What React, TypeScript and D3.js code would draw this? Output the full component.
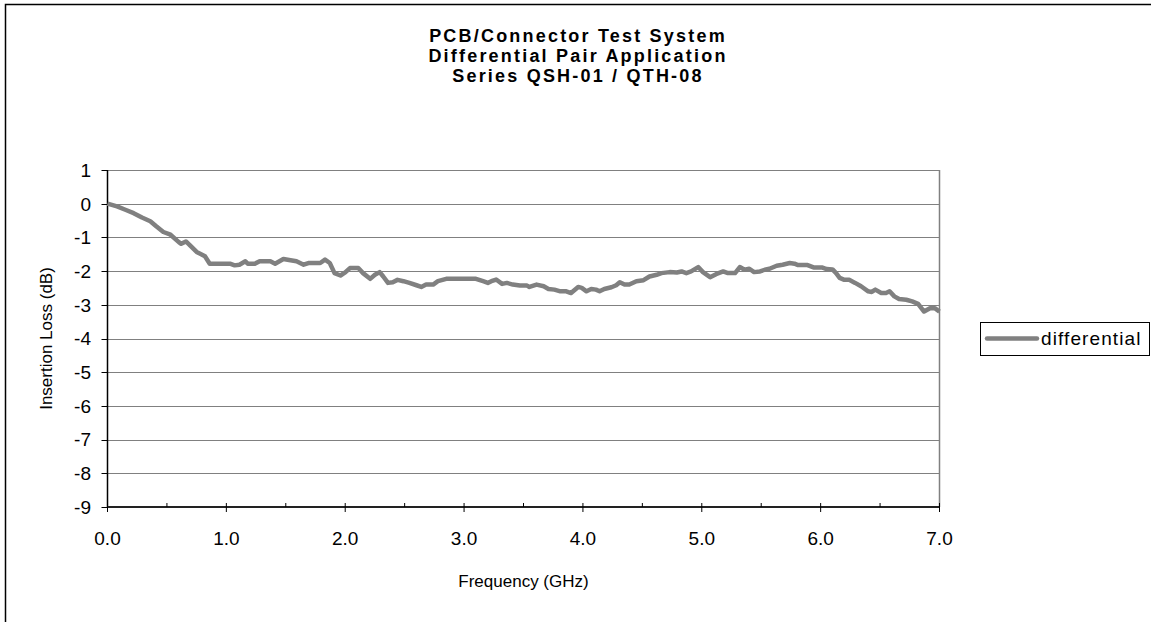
import React from 'react';
import * as d3 from 'd3';

// Frequency (GHz) and insertion loss (dB)
const freq = [
  0.0, 0.08, 0.15, 0.22, 0.29, 0.36, 0.41, 0.47, 0.53, 0.6, 0.62, 0.66, 0.69, 0.75, 0.82, 0.86,
  1.03, 1.07, 1.11, 1.16, 1.18, 1.24, 1.28, 1.37, 1.41, 1.48, 1.54, 1.59, 1.65, 1.69, 1.79, 1.83,
  1.87, 1.91, 1.96, 2.0, 2.04, 2.11, 2.15, 2.21, 2.25, 2.29, 2.32, 2.36, 2.4, 2.44, 2.49, 2.54,
  2.6, 2.64, 2.68, 2.74, 2.78, 2.85, 3.1, 3.16, 3.2, 3.23, 3.27, 3.32, 3.36, 3.41, 3.47, 3.53,
  3.55, 3.61, 3.67, 3.71, 3.76, 3.81, 3.86, 3.9, 3.96, 3.99, 4.03, 4.07, 4.11, 4.14, 4.18, 4.24,
  4.28, 4.31, 4.35, 4.39, 4.45, 4.51, 4.56, 4.62, 4.66, 4.73, 4.79, 4.83, 4.87, 4.91, 4.97, 5.01,
  5.07, 5.12, 5.18, 5.22, 5.28, 5.32, 5.36, 5.4, 5.44, 5.49, 5.53, 5.57, 5.63, 5.68, 5.74, 5.78,
  5.81, 5.89, 5.94, 6.01, 6.05, 6.1, 6.13, 6.16, 6.2, 6.24, 6.29, 6.34, 6.4, 6.43, 6.46, 6.51,
  6.55, 6.58, 6.62, 6.66, 6.72, 6.77, 6.82, 6.87, 6.92, 6.96, 7.0,
];
const loss = [
  0.0, -0.08, -0.18, -0.28, -0.41, -0.52, -0.67, -0.84, -0.92, -1.14, -1.19, -1.12, -1.22, -1.43, -1.56, -1.78,
  -1.78, -1.83, -1.81, -1.71, -1.78, -1.78, -1.71, -1.71, -1.78, -1.64, -1.68, -1.71, -1.81, -1.76, -1.76, -1.66,
  -1.76, -2.06, -2.13, -2.04, -1.91, -1.91, -2.06, -2.23, -2.11, -2.03, -2.16, -2.35, -2.33, -2.26, -2.3, -2.35,
  -2.42, -2.47, -2.4, -2.4, -2.3, -2.23, -2.23, -2.3, -2.35, -2.3, -2.25, -2.38, -2.35, -2.4, -2.43, -2.43,
  -2.47, -2.4, -2.45, -2.53, -2.55, -2.6, -2.6, -2.65, -2.47, -2.5, -2.6, -2.53, -2.55, -2.6, -2.53, -2.48,
  -2.42, -2.33, -2.4, -2.4, -2.3, -2.27, -2.16, -2.11, -2.06, -2.03, -2.04, -2.01, -2.06, -2.01, -1.88, -2.03,
  -2.18, -2.09, -2.01, -2.06, -2.06, -1.88, -1.96, -1.93, -2.03, -2.01, -1.96, -1.93, -1.84, -1.81, -1.76, -1.78,
  -1.82, -1.82, -1.89, -1.89, -1.94, -1.95, -2.06, -2.2, -2.26, -2.26, -2.35, -2.45, -2.6, -2.62, -2.55, -2.65,
  -2.65, -2.6, -2.75, -2.83, -2.85, -2.9, -2.97, -3.2, -3.1, -3.1, -3.2,
];

const yTicks = [1, 0, -1, -2, -3, -4, -5, -6, -7, -8, -9];
const xTicks = [0, 1, 2, 3, 4, 5, 6, 7];
const xMinor = [0.5, 1.5, 2.5, 3.5, 4.5, 5.5, 6.5];
const titleLines = ['PCB/Connector Test System', 'Differential Pair Application', 'Series QSH-01 / QTH-08'];
const seriesName = 'differential';

const W = 1151;
const H = 622;
const font = 'Arial, "Liberation Sans", sans-serif';

const App: React.FC = () => {
  const x = d3.scaleLinear().domain([0, 7]).range([107.5, 939.5]);
  const y = d3.scaleLinear().domain([-9, 1]).range([507, 170]);

  const points: [number, number][] = freq.map((f, i) => [f, loss[i]]);
  const line = d3.line<[number, number]>()
    .x(d => x(d[0]))
    .y(d => y(d[1]));

  const [x0, x1] = x.range();
  const [yBottom, yTop] = y.range();

  return (
    <svg
      width={W}
      height={H}
      style={{ position: 'absolute', left: 0, top: 0, display: 'block', background: '#fff' }}
      fontFamily={font}
    >
      {/* chart frame */}
      <rect x={5.5} y={4.5} width={1160} height={640} fill="#fff" stroke="#000" strokeWidth={1.5} />

      {/* title */}
      {titleLines.map((t, i) => (
        <text
          key={t}
          x={578}
          y={42 + i * 20}
          textAnchor="middle"
          fontSize={18}
          fontWeight="bold"
          letterSpacing={2.2}
        >
          {t}
        </text>
      ))}

      {/* gridlines */}
      {yTicks.filter(v => v !== -9).map(v => (
        <line key={v} x1={x0} x2={x1} y1={Math.round(y(v)) + 0.5} y2={Math.round(y(v)) + 0.5} stroke="#808080" strokeWidth={1} />
      ))}
      {/* right plot border */}
      <line x1={x1} x2={x1} y1={yTop} y2={yBottom} stroke="#808080" strokeWidth={1.5} />

      {/* y axis */}
      <line x1={x0} x2={x0} y1={yTop} y2={yBottom} stroke="#000" strokeWidth={1.5} />
      {yTicks.map(v => (
        <g key={v}>
          <line x1={x0 - 6} x2={x0} y1={Math.round(y(v)) + 0.5} y2={Math.round(y(v)) + 0.5} stroke="#000" />
          <text x={91} y={y(v)} dy="0.36em" textAnchor="end" fontSize={19}>
            {v}
          </text>
        </g>
      ))}

      {/* x axis */}
      <line x1={x0} x2={x1} y1={yBottom} y2={yBottom} stroke="#222" strokeWidth={2} />
      {xTicks.map(v => (
        <g key={v}>
          <line x1={x(v)} x2={x(v)} y1={yBottom - 4} y2={yBottom + 5} stroke="#000" />
          <text x={x(v)} y={545} textAnchor="middle" fontSize={19}>
            {d3.format('.1f')(v)}
          </text>
        </g>
      ))}
      {xMinor.map(v => (
        <line key={v} x1={x(v)} x2={x(v)} y1={yBottom - 4} y2={yBottom} stroke="#000" />
      ))}

      {/* series */}
      <path d={line(points) || ''} fill="none" stroke="#808080" strokeWidth={4.5} strokeLinejoin="round" />

      {/* axis titles */}
      <text x={(x0 + x1) / 2} y={587} textAnchor="middle" fontSize={17}>
        Frequency (GHz)
      </text>
      <text transform={`translate(52, ${(yTop + yBottom) / 2}) rotate(-90)`} textAnchor="middle" fontSize={17}>
        Insertion Loss (dB)
      </text>

      {/* legend */}
      <rect x={980.5} y={322.5} width={169} height={33} fill="#fff" stroke="#000" strokeWidth={1} />
      <line x1={987} x2={1037} y1={338.5} y2={338.5} stroke="#808080" strokeWidth={4.5} strokeLinecap="round" />
      <text x={1041} y={345} fontSize={19} letterSpacing={1.1}>
        {seriesName}
      </text>
    </svg>
  );
};

export default App;
